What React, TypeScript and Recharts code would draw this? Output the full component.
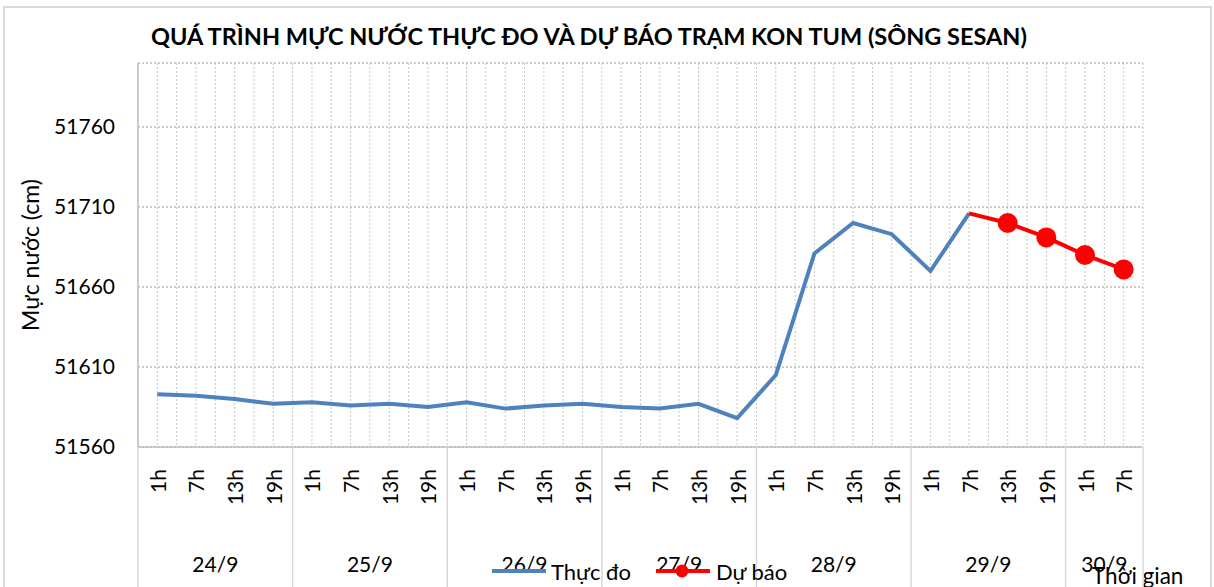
import React from 'react';
import { LineChart, Line, XAxis, YAxis, CartesianGrid, Legend } from 'recharts';

// ---- data ----
const categoryDays = [
  '24/9', '24/9', '24/9', '24/9',
  '25/9', '25/9', '25/9', '25/9',
  '26/9', '26/9', '26/9', '26/9',
  '27/9', '27/9', '27/9', '27/9',
  '28/9', '28/9', '28/9', '28/9',
  '29/9', '29/9', '29/9', '29/9',
  '30/9', '30/9',
];
const categoryHours = [
  '1h', '7h', '13h', '19h',
  '1h', '7h', '13h', '19h',
  '1h', '7h', '13h', '19h',
  '1h', '7h', '13h', '19h',
  '1h', '7h', '13h', '19h',
  '1h', '7h', '13h', '19h',
  '1h', '7h',
];
const observed: (number | null)[] = [
  51593, 51592, 51590, 51587,
  51588, 51586, 51587, 51585,
  51588, 51584, 51586, 51587,
  51585, 51584, 51587, 51578,
  51605, 51681, 51700, 51693,
  51670, 51706, null, null,
  null, null,
];
const forecast: (number | null)[] = [
  null, null, null, null,
  null, null, null, null,
  null, null, null, null,
  null, null, null, null,
  null, null, null, null,
  null, 51706, 51700, 51691,
  51680, 51671,
];
const yTicks = [51560, 51610, 51660, 51710, 51760];
const yDomain: [number, number] = [51560, 51800];

const TITLE = 'QUÁ TRÌNH MỰC NƯỚC THỰC ĐO VÀ DỰ BÁO TRẠM KON TUM (SÔNG SESAN)';
const Y_LABEL = 'Mực nước (cm)';
const X_LABEL = 'Thời gian';
const SERIES_OBS = 'Thực đo';
const SERIES_FC = 'Dự báo';

const data = categoryHours.map((h, i) => ({
  key: `${categoryDays[i]} ${h}`,
  observed: observed[i],
  forecast: forecast[i],
}));

// ---- layout ----
const FONT = 'Lato, "Open Sans", sans-serif';
const W = 1214;
const H = 587;
const PLOT_LEFT = 138;
const PLOT_RIGHT = 1143;
const PLOT_TOP = 63;
const X_AXIS_H = 140;
const Y_AXIS_W = 80;
const N = categoryHours.length;
const STEP = (PLOT_RIGHT - PLOT_LEFT) / N;
const FORECAST_START = forecast.findIndex((v) => v != null);
const BLUE = '#4f81bd';
const RED = '#ff0000';

function HourTick(props: any) {
  const { x, y } = props;
  const index: number = props.payload?.index ?? props.index;
  const hour = categoryHours[index];
  const day = categoryDays[index];
  const first = index === 0 || categoryDays[index - 1] !== day;
  const last = index === N - 1;
  let groupSize = 0;
  for (let j = index; j < N && categoryDays[j] === day; j++) groupSize++;
  const ty = y + 22;
  return (
    <g>
      <text
        x={x}
        y={ty}
        transform={`rotate(-90, ${x}, ${ty})`}
        textAnchor="end"
        dominantBaseline="central"
        fontSize={21}
        fill="#000"
        fontFamily={FONT}
      >
        {hour}
      </text>
      {first && (
        <line x1={x - STEP / 2} x2={x - STEP / 2} y1={y} y2={y + X_AXIS_H} stroke="#d9d9d9" strokeWidth={1.5} />
      )}
      {first && (
        <text
          x={x + ((groupSize - 1) * STEP) / 2}
          y={y + 116}
          textAnchor="middle"
          dominantBaseline="central"
          fontSize={21}
          fill="#000"
          fontFamily={FONT}
        >
          {day}
        </text>
      )}
      {last && (
        <line x1={x + STEP / 2} x2={x + STEP / 2} y1={y} y2={y + X_AXIS_H} stroke="#d9d9d9" strokeWidth={1.5} />
      )}
    </g>
  );
}

function ForecastDot(p: any) {
  const k = `fd-${p.index}`;
  if (p.index === FORECAST_START || p.cx == null || p.cy == null || p.value == null) {
    return <g key={k} />;
  }
  return <circle key={k} cx={p.cx} cy={p.cy} r={10} fill={RED} stroke="none" />;
}

function LegendContent() {
  return (
    <div style={{ position: 'relative', width: 0, height: 0 }}>
      <svg
        width={320}
        height={30}
        style={{ position: 'absolute', left: 488, top: 556, overflow: 'visible' }}
      >
        <line x1={4} x2={58} y1={15} y2={15} stroke={BLUE} strokeWidth={4} />
        <text x={63} y={15} dominantBaseline="central" fontSize={22} fontFamily={FONT} fill="#000">
          {SERIES_OBS}
        </text>
        <line x1={168} x2={222} y1={15} y2={15} stroke={RED} strokeWidth={4} />
        <circle cx={194} cy={15} r={6.5} fill={RED} />
        <text x={228} y={15} dominantBaseline="central" fontSize={22} fontFamily={FONT} fill="#000">
          {SERIES_FC}
        </text>
      </svg>
    </div>
  );
}

export default function App() {
  return (
    <div style={{ position: 'absolute', left: 0, top: 0, width: W, height: H, overflow: 'hidden', background: '#fff' }}>
      <div
        style={{
          position: 'absolute',
          left: 3,
          top: 6,
          width: 1209,
          height: 640,
          border: '2px solid #d9d9d9',
          boxSizing: 'border-box',
        }}
      />
      <div
        style={{
          position: 'absolute',
          left: 0,
          top: 22,
          width: 1178,
          textAlign: 'center',
          fontFamily: FONT,
          fontWeight: 700,
          fontSize: 23.5,
          color: '#000',
          whiteSpace: 'nowrap',
        }}
      >
        {TITLE}
      </div>
      <div style={{ position: 'absolute', left: 0, top: 0 }}>
        <LineChart
          width={W}
          height={H}
          data={data}
          margin={{ top: PLOT_TOP, right: W - PLOT_RIGHT, left: PLOT_LEFT - Y_AXIS_W, bottom: 0 }}
        >
          <CartesianGrid
            horizontal={false}
            stroke="#c8c8c8"
            strokeDasharray="2 2"
            verticalCoordinatesGenerator={({ offset }: any) =>
              Array.from({ length: 2 * N + 1 }, (_, i) => offset.left + (i * offset.width) / (2 * N))
            }
          />
          <CartesianGrid vertical={false} stroke="#9a9a9a" strokeDasharray="2 2" />
          <XAxis
            dataKey="key"
            interval={0}
            height={X_AXIS_H}
            padding={{ left: STEP / 2, right: STEP / 2 }}
            tickLine={false}
            tickSize={0}
            tickMargin={0}
            axisLine={{ stroke: '#bfbfbf', strokeWidth: 1.5 }}
            tick={<HourTick />}
            label={() => (
              <text x={1092} y={575} dominantBaseline="central" fontSize={22.5} fontFamily={FONT} fill="#000">
                {X_LABEL}
              </text>
            )}
          />
          <YAxis
            domain={yDomain}
            ticks={yTicks}
            interval={0}
            width={Y_AXIS_W}
            tickLine={false}
            tickSize={0}
            tickMargin={23}
            axisLine={{ stroke: '#bfbfbf', strokeWidth: 1.5 }}
            tick={{ fontSize: 21, fill: '#000', fontFamily: FONT }}
            label={() => (
              <text
                x={30}
                y={255}
                transform="rotate(-90, 30, 255)"
                textAnchor="middle"
                dominantBaseline="central"
                fontSize={23}
                fontFamily={FONT}
                fill="#000"
              >
                {Y_LABEL}
              </text>
            )}
          />
          <Legend
            content={<LegendContent />}
            wrapperStyle={{ left: 0, top: 0, width: 0, height: 0, bottom: 'auto', overflow: 'visible' }}
          />
          <Line
            type="linear"
            dataKey="observed"
            name={SERIES_OBS}
            stroke={BLUE}
            strokeWidth={4}
            dot={false}
            activeDot={false}
            connectNulls={false}
            isAnimationActive={false}
          />
          <Line
            type="linear"
            dataKey="forecast"
            name={SERIES_FC}
            stroke={RED}
            strokeWidth={4}
            dot={ForecastDot}
            activeDot={false}
            connectNulls={false}
            isAnimationActive={false}
          />
        </LineChart>
      </div>
    </div>
  );
}
